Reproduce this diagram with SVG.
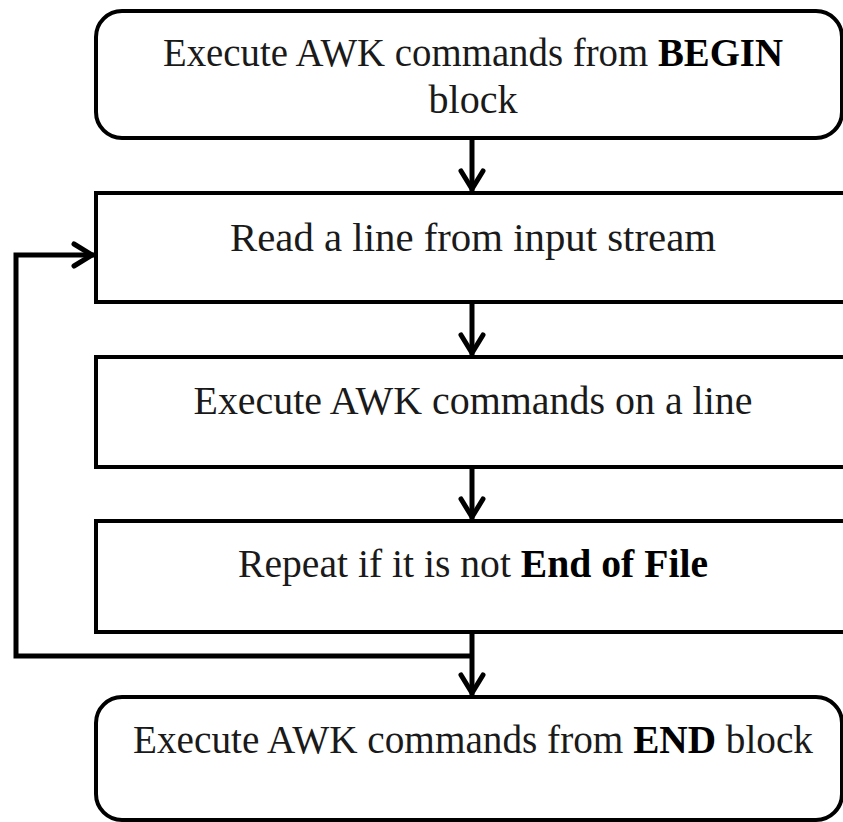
<svg xmlns="http://www.w3.org/2000/svg" width="843" height="822" viewBox="0 0 843 822">
<style>
.box{fill:#fff;stroke:#000;stroke-width:4}
.t{font-family:"Liberation Serif","Times New Roman",serif;font-size:39px;fill:#1a1a1a;text-anchor:middle}
.b{font-weight:bold;fill:#000}
.c{fill:none;stroke:#000;stroke-width:5}
.ah{fill:none;stroke:#000;stroke-width:5;stroke-linecap:round;stroke-linejoin:miter}
</style>
<rect width="843" height="822" fill="#fff"/>
<g id="n1"><rect class="box" x="96" y="11" width="746" height="127" rx="26"/>
<text class="t" x="473" y="66" textLength="620" lengthAdjust="spacingAndGlyphs">Execute AWK commands from <tspan class="b">BEGIN</tspan></text>
<text class="t" x="473" y="113" textLength="89" lengthAdjust="spacingAndGlyphs">block</text></g>
<g id="n2"><rect class="box" x="96" y="193" width="760" height="109"/>
<text class="t" x="473" y="251" textLength="486" lengthAdjust="spacingAndGlyphs">Read a line from input stream</text></g>
<g id="n3"><rect class="box" x="96" y="357" width="760" height="110"/>
<text class="t" x="473" y="414" textLength="559" lengthAdjust="spacingAndGlyphs">Execute AWK commands on a line</text></g>
<g id="n4"><rect class="box" x="96" y="521" width="760" height="111"/>
<text class="t" x="473" y="577" textLength="470" lengthAdjust="spacingAndGlyphs">Repeat if it is not <tspan class="b">End of File</tspan></text></g>
<g id="n5"><rect class="box" x="96" y="697" width="746" height="123" rx="26"/>
<text class="t" x="473" y="753" textLength="680" lengthAdjust="spacingAndGlyphs">Execute AWK commands from <tspan class="b">END</tspan> block</text></g>
<g id="connectors">
<line class="c" x1="472" y1="138" x2="472" y2="191"/>
<polyline class="ah" points="461,171 472,189 483,171"/>
<line class="c" x1="472" y1="302" x2="472" y2="355"/>
<polyline class="ah" points="461,335 472,353 483,335"/>
<line class="c" x1="472" y1="467" x2="472" y2="519"/>
<polyline class="ah" points="461,499 472,517 483,499"/>
<line class="c" x1="472" y1="632" x2="472" y2="695"/>
<polyline class="ah" points="461,675 472,693 483,675"/>
<polyline class="c" points="472,656 16,656 16,255 94,255"/>
<polyline class="ah" points="74,244 92,255 74,266"/>
</g>
</svg>
